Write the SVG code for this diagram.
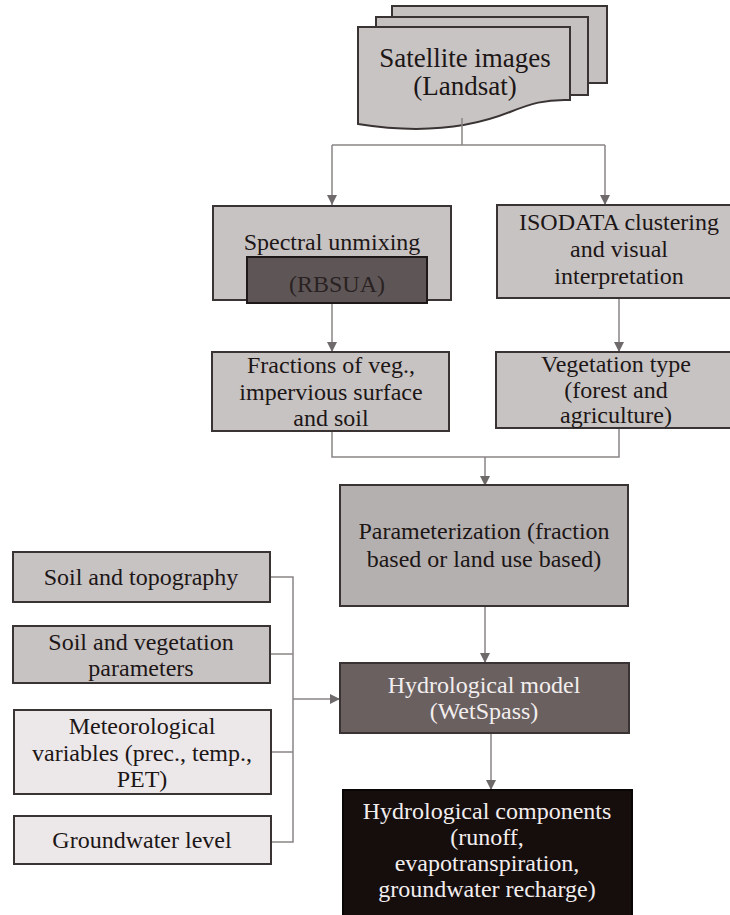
<svg xmlns="http://www.w3.org/2000/svg" width="730" height="915" viewBox="0 0 730 915">
<defs>
<marker id="arr" markerWidth="11" markerHeight="10" refX="10" refY="5" orient="auto" markerUnits="userSpaceOnUse">
<path d="M0,0 L10,5 L0,10 Z" fill="#6f6a6a"/>
</marker>
<style>
.t{font-family:"Liberation Serif","Times New Roman",serif;font-size:24px;fill:#1c1616;text-anchor:middle}
.w{fill:#f2eeee}
.box{stroke:#3a3333;stroke-width:2}
.g{fill:#c8c3c3}
.lt{fill:#ece8ea}
.c{fill:none;stroke:#8a8585;stroke-width:1.5}
</style>
</defs>
<rect width="730" height="915" fill="#ffffff"/>

<g id="satellite">
<rect x="392" y="6" width="215" height="77" fill="#c6c1c1" stroke="#3a3333" stroke-width="2"/>
<rect x="376" y="17" width="212" height="78" fill="#c6c1c1" stroke="#3a3333" stroke-width="2"/>
<path d="M358,27 L570,27 L570,100 C545,99 530,104 510,112 C470,128 420,134 358,124 Z" fill="#c9c4c4" stroke="#3a3333" stroke-width="2"/>
<text class="t" x="465" y="67" style="font-size:27px">Satellite images</text>
<text class="t" x="465" y="95" style="font-size:27px">(Landsat)</text>
</g>

<g id="connectors">
<path class="c" d="M462,118 L462,145 M332,145 L605,145"/>
<path class="c" d="M332,145 L332,205" marker-end="url(#arr)"/>
<path class="c" d="M605,145 L605,205" marker-end="url(#arr)"/>
<path class="c" d="M332,303 L332,352" marker-end="url(#arr)"/>
<path class="c" d="M619,298 L619,352" marker-end="url(#arr)"/>
<path class="c" d="M332,431 L332,457 L619,457 L619,428"/>
<path class="c" d="M485,457 L485,486" marker-end="url(#arr)"/>
<path class="c" d="M485,606 L485,663" marker-end="url(#arr)"/>
<path class="c" d="M491,733 L491,790" marker-end="url(#arr)"/>
<path class="c" d="M270,577 L293,577 L293,842 L270,842 M270,654 L293,654 M271,752 L293,752"/>
<path class="c" d="M293,699 L340,699" marker-end="url(#arr)"/>
</g>

<g id="spectral">
<rect class="box g" x="213" y="206" width="238" height="94"/>
<text class="t" x="332" y="250">Spectral unmixing</text>
<rect x="247" y="257" width="180" height="46" fill="#5e5656" stroke="#1e1818" stroke-width="2"/>
<text class="t" x="337" y="292" style="fill:#2a2222">(RBSUA)</text>
</g>

<g id="isodata">
<rect class="box g" x="497" y="205" width="245" height="93"/>
<text class="t" x="619" y="230">ISODATA clustering</text>
<text class="t" x="619" y="257">and visual</text>
<text class="t" x="619" y="284">interpretation</text>
</g>

<g id="fractions">
<rect class="box g" x="212" y="352" width="237" height="79"/>
<text class="t" x="331" y="373">Fractions of veg.,</text>
<text class="t" x="331" y="400">impervious surface</text>
<text class="t" x="331" y="426">and soil</text>
</g>

<g id="vegetation">
<rect class="box g" x="496" y="352" width="246" height="76"/>
<text class="t" x="616" y="372">Vegetation type</text>
<text class="t" x="616" y="398">(forest and</text>
<text class="t" x="616" y="423">agriculture)</text>
</g>

<g id="parameterization">
<rect class="box" x="340" y="485" width="288" height="121" fill="#b5b0b0"/>
<text class="t" x="484" y="539">Parameterization (fraction</text>
<text class="t" x="484" y="567">based or land use based)</text>
</g>

<g id="soil-topo">
<rect class="box g" x="13" y="552" width="257" height="50"/>
<text class="t" x="141" y="585">Soil and topography</text>
</g>

<g id="soil-veg">
<rect class="box g" x="13" y="626" width="257" height="57"/>
<text class="t" x="141" y="650">Soil and vegetation</text>
<text class="t" x="141" y="676">parameters</text>
</g>

<g id="meteo">
<rect class="box lt" x="14" y="710" width="257" height="84"/>
<text class="t" x="142" y="734">Meteorological</text>
<text class="t" x="142" y="761">variables (prec., temp.,</text>
<text class="t" x="142" y="787">PET)</text>
</g>

<g id="groundwater">
<rect class="box lt" x="14" y="816" width="257" height="48"/>
<text class="t" x="142" y="848">Groundwater level</text>
</g>

<g id="hydro-model">
<rect class="box" x="340" y="663" width="289" height="70" fill="#6a6060"/>
<text class="t w" x="484" y="693">Hydrological model</text>
<text class="t w" x="484" y="719">(WetSpass)</text>
</g>

<g id="hydro-components">
<rect x="343" y="790" width="289" height="130" fill="#160d0d" stroke="#0a0606" stroke-width="2"/>
<text class="t w" x="487" y="819">Hydrological components</text>
<text class="t w" x="487" y="845">(runoff,</text>
<text class="t w" x="487" y="871">evapotranspiration,</text>
<text class="t w" x="487" y="897">groundwater recharge)</text>
</g>
</svg>
